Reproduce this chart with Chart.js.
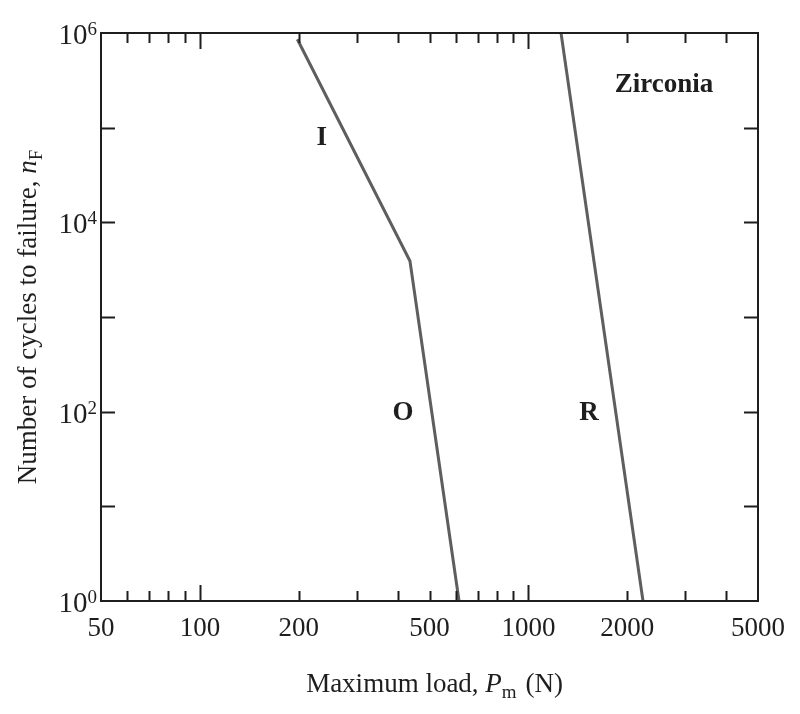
<!DOCTYPE html>
<html>
<head>
<meta charset="utf-8">
<script src="https://cdn.jsdelivr.net/npm/chart.js@4/dist/chart.umd.min.js"></script>
<style>
  html, body { margin: 0; padding: 0; background: #ffffff; }
  #wrap { width: 800px; height: 714px; }
</style>
</head>
<body>
<div id="wrap"><canvas id="c" width="800" height="714"></canvas></div>
<script>
// ---- data ----
const loadIO = [198, 436, 615];        // regimes I then O (N)
const cyclesIO = [8.6e5, 3900, 1];
const loadR = [1257, 2233];            // regime R (N)
const cyclesR = [1e6, 1];

const xTickLabels = [50, 100, 200, 500, 1000, 2000, 5000];
const xMajorTicks = [100, 1000];
const xMinorTicks = [60, 70, 80, 90, 200, 300, 400, 500, 600, 700, 800, 900, 2000, 3000, 4000];
const yTickExponents = [0, 2, 4, 6];
const yTicks = [10, 100, 1000, 10000, 100000];

const regimeLabels = ['I', 'O', 'R'];
const regimeLabelX = [235, 415, 1529];
const regimeLabelY = [7.8e4, 97, 97];
const materialLabel = 'Zirconia';
const materialX = 2588;
const materialY = 2.8e5;

const xTitle = ['Maximum load, ', 'P', 'm', ' (N)'];
const yTitle = ['Number of cycles to failure, ', 'n', 'F'];

const SERIF = '"Liberation Serif", "Times New Roman", serif';
const LINE = '#5e5e5e';
const INK = '#1e1e1e';

function pts(xs, ys) { return xs.map((x, i) => ({ x: x, y: ys[i] })); }

const decor = {
  id: 'decor',
  afterDraw(chart) {
    const ctx = chart.ctx;
    const a = chart.chartArea;
    const xs = chart.scales.x, ys = chart.scales.y;
    ctx.save();
    ctx.strokeStyle = INK;
    ctx.lineWidth = 2;
    ctx.strokeRect(a.left, a.top, a.right - a.left, a.bottom - a.top);
    ctx.beginPath();
    const tickX = (v, len) => {
      const px = Math.round(xs.getPixelForValue(v)) + 0.5;
      ctx.moveTo(px, a.bottom); ctx.lineTo(px, a.bottom - len);
      ctx.moveTo(px, a.top); ctx.lineTo(px, a.top + len);
    };
    xMinorTicks.forEach(v => tickX(v, 10));
    xMajorTicks.forEach(v => tickX(v, 16));
    yTicks.forEach(v => {
      const py = Math.round(ys.getPixelForValue(v)) + 0.5;
      ctx.moveTo(a.left, py); ctx.lineTo(a.left + 14, py);
      ctx.moveTo(a.right, py); ctx.lineTo(a.right - 14, py);
    });
    ctx.stroke();

    // x tick labels
    ctx.fillStyle = INK;
    ctx.font = '27px ' + SERIF;
    ctx.textAlign = 'center';
    ctx.textBaseline = 'alphabetic';
    xTickLabels.forEach(v => {
      ctx.fillText(String(v), xs.getPixelForValue(v), a.bottom + 35);
    });
    // y tick labels 10^n
    yTickExponents.forEach(e => {
      const py = ys.getPixelForValue(Math.pow(10, e));
      ctx.font = '19px ' + SERIF;
      const sw = ctx.measureText(String(e)).width;
      ctx.textAlign = 'right';
      ctx.fillText(String(e), a.left - 4, py + 2);
      ctx.font = '29px ' + SERIF;
      ctx.fillText('10', a.left - 4 - sw, py + 11);
    });

    // titles with italic symbol and subscript
    const drawRich = (parts, cx, cy) => {
      const fonts = parts.map((p, i) => {
        if (i === 1) return 'italic 27px ' + SERIF;
        if (i === 2) return '19px ' + SERIF;
        return '27px ' + SERIF;
      });
      let total = 0;
      const widths = parts.map((p, i) => { ctx.font = fonts[i]; const w = ctx.measureText(p).width; total += w; return w; });
      let x = cx - total / 2;
      ctx.textAlign = 'left';
      parts.forEach((p, i) => {
        ctx.font = fonts[i];
        ctx.fillText(p, x, cy + (i === 2 ? 6 : 0));
        x += widths[i] + (i === 2 ? 2 : 0);
      });
    };
    drawRich(xTitle, (a.left + a.right) / 2 + 4, 692);
    ctx.save();
    ctx.translate(36, (a.top + a.bottom) / 2);
    ctx.rotate(-Math.PI / 2);
    drawRich(yTitle, 0, 0);
    ctx.restore();

    // in-plot labels
    ctx.font = 'bold 27px ' + SERIF;
    ctx.textAlign = 'center';
    ctx.textBaseline = 'middle';
    regimeLabels.forEach((t, i) => {
      ctx.fillText(t, xs.getPixelForValue(regimeLabelX[i]), ys.getPixelForValue(regimeLabelY[i]));
    });
    ctx.font = 'bold 27px ' + SERIF;
    ctx.fillText(materialLabel, xs.getPixelForValue(materialX), ys.getPixelForValue(materialY));
    ctx.restore();
  }
};

new Chart(document.getElementById('c'), {
  type: 'scatter',
  data: {
    datasets: [
      { label: 'I-O', data: pts(loadIO, cyclesIO), showLine: true, borderColor: LINE, borderWidth: 3, pointRadius: 0, borderJoinStyle: 'miter', fill: false },
      { label: 'R', data: pts(loadR, cyclesR), showLine: true, borderColor: LINE, borderWidth: 3, pointRadius: 0, fill: false }
    ]
  },
  options: {
    responsive: false,
    animation: false,
    devicePixelRatio: 1,
    layout: { padding: { left: 101, right: 42, top: 33, bottom: 113 } },
    plugins: { legend: { display: false }, tooltip: { enabled: false } },
    scales: {
      x: { type: 'logarithmic', min: 50, max: 5000, display: false },
      y: { type: 'logarithmic', min: 1, max: 1e6, display: false }
    }
  },
  plugins: [decor]
});
</script>
</body>
</html>
